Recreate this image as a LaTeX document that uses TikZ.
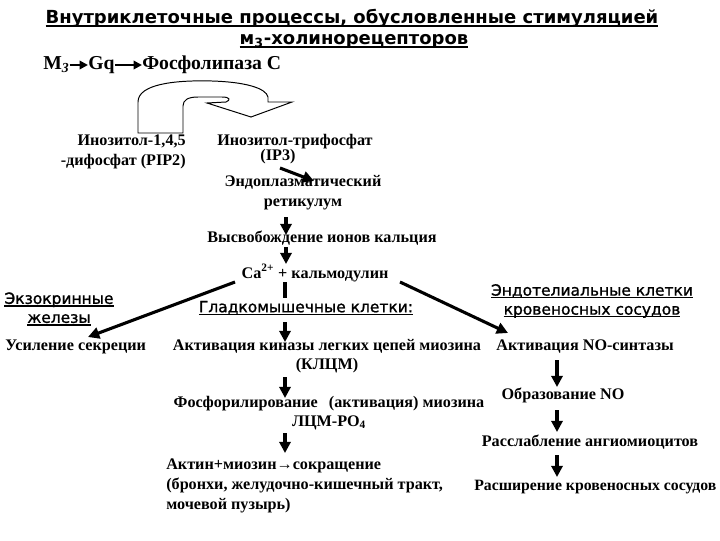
\documentclass[tikz,border=0pt]{standalone}
\usepackage{fontspec}
\setmainfont{Liberation Serif}
\newfontfamily\dvs{DejaVu Sans}
\newfontfamily\dvsfb[FakeBold=1.2]{DejaVu Sans}
\usetikzlibrary{arrows.meta}
\newsavebox\myulbox
\newcommand{\myul}[1]{\sbox\myulbox{#1}\rlap{\rule[-2pt]{\wd\myulbox}{1pt}}\usebox\myulbox}
\newcommand{\myulT}[1]{\sbox\myulbox{#1}\rlap{\rule[-2.4pt]{\wd\myulbox}{1.3pt}}\usebox\myulbox}
\begin{document}
\begin{tikzpicture}[x=0.025cm,y=-0.025cm,
  txt/.style={font=\bfseries\fontsize{11.5}{14}\selectfont, inner sep=0pt, align=center},
  big/.style={font=\bfseries\fontsize{14}{16}\selectfont, inner sep=0pt},
  lbl/.style={font=\dvsfb\fontsize{11}{13.5}\selectfont, inner sep=0pt, align=center},
  ttl/.style={font=\dvs\bfseries\fontsize{12.8}{15}\selectfont, inner sep=0pt},
  arr/.style={line width=2.2pt, -{Triangle[length=8pt,width=8pt]}},
  sarr/.style={line width=1.6pt, -{Triangle[length=6pt,width=6pt]}},
  ln/.style={line width=2.2pt},
  uturn/.style={line width=0.7pt, draw=black, fill=white}]
\useasboundingbox (0,0) rectangle (720,540);
\fill[white] (0,0) rectangle (720,540);

% title
\node[ttl] (t1) at (352,18) {\myulT{Внутриклеточные процессы, обусловленные стимуляцией}};
\node[ttl] (t2) at (354,41) {\myulT{м\textsubscript{3}-холинорецепторов}};

% M3 -> Gq -> PLC
\node[big,anchor=west] (m3) at (43,65) {M\textsubscript{\itshape 3}};
\node[big,anchor=west] (gq) at (88,65) {Gq};
\node[big,anchor=west] (plc) at (142,65) {Фосфолипаза С};
\draw[sarr] (m3.east) -- (gq.west);
\draw[sarr] (gq.east) -- (plc.west);

% U-turn arrow
\draw[uturn] (138,133) -- (138,102)
  .. controls (138,84) and (175,80) .. (212,81)
  .. controls (245,82) and (266,88) .. (268,97)
  -- (268,102) -- (292,102) -- (251,117) -- (207,103) -- (226,102)
  .. controls (231,100) and (230,97) .. (222,97)
  -- (198,97) .. controls (188,97) and (183,100) .. (183,106)
  -- (183,133) -- cycle;

% PIP2, IP3
\node[txt, align=right, anchor=east, font=\bfseries\fontsize{11.5}{14.2}\selectfont] (pip) at (186,152) {Инозитол-1,4,5\\-дифосфат (PIP2)};
\node[txt] (ip3a) at (295,142) {Инозитол-трифосфат};
\node[txt] (ip3b) at (278,157) {(IP3)};
\node[txt] (er) at (303,193) {Эндоплазматический\\ретикулум};
\node[txt] (rel) at (322,238) {Высвобождение ионов кальция};
\node[txt] (ca) at (315,273) {Ca\textsuperscript{2+} + кальмодулин};

\coordinate (a1s) at (280,168); \coordinate (a1e) at (314,181);
\draw[arr] (a1s) -- (a1e);
\coordinate (a2s) at (286,217); \coordinate (a2e) at (286,235);
\draw[arr] (a2s) -- (a2e);
\coordinate (a3s) at (286,247); \coordinate (a3e) at (286,264);
\draw[arr] (a3s) -- (a3e);

% branches from Ca
\coordinate (caL) at (235,282); \coordinate (tipL) at (88,337);
\draw[arr] (caL) -- (tipL);
\coordinate (caR) at (400,282); \coordinate (tipR) at (508,333);
\draw[arr] (caR) -- (tipR);
\coordinate (caM) at (285,282); \coordinate (caMe) at (285,298);
\draw[ln] (caM) -- (caMe);

% left column
\node[lbl] (exo) at (59,309) {\myul{Экзокринные}\\\myul{железы}};
\node[txt, anchor=west] (secr) at (5,347) {Усиление секреции};

% middle column
\node[lbl] (smooth) at (306,308) {\myul{Гладкомышечные клетки:}};
\node[txt] (klcm) at (327,356) {Активация киназы легких цепей миозина\\(КЛЦМ)};
\node[txt, font=\bfseries\fontsize{11.5}{13.5}\selectfont] (phos) at (329,413) {Фосфорилирование\hspace{5pt} (активация) миозина\\ЛЦМ-РО\textsubscript{4}};
\node[txt, align=left, anchor=west, font=\bfseries\fontsize{11.5}{14.2}\selectfont] (act) at (166,486) {Актин+миозин→сокращение\\(бронхи, желудочно-кишечный тракт,\\мочевой пузырь)};
\coordinate (m1s) at (285,322); \coordinate (m1e) at (285,342);
\draw[arr] (m1s) -- (m1e);
\coordinate (m2s) at (285,377); \coordinate (m2e) at (285,398);
\draw[arr] (m2s) -- (m2e);
\coordinate (m3s) at (285,433); \coordinate (m3e) at (285,453);
\draw[arr] (m3s) -- (m3e);

% right column
\node[lbl] (endo) at (592,301) {\myul{Эндотелиальные клетки}\\\myul{кровеносных сосудов}};
\node[txt] (nos) at (585,347) {Активация NO-синтазы};
\node[txt] (no) at (563,395) {Образование NO};
\node[txt] (relax) at (590,442) {Расслабление ангиомиоцитов};
\node[txt, anchor=west, font=\bfseries\fontsize{11.2}{14}\selectfont] (dil) at (474,487) {Расширение кровеносных сосудов};
\coordinate (r1s) at (557,360); \coordinate (r1e) at (557,387);
\draw[arr] (r1s) -- (r1e);
\coordinate (r2s) at (557,410); \coordinate (r2e) at (557,432);
\draw[arr] (r2s) -- (r2e);
\coordinate (r3s) at (557,455); \coordinate (r3e) at (557,477);
\draw[arr] (r3s) -- (r3e);
\end{tikzpicture}
\end{document}
